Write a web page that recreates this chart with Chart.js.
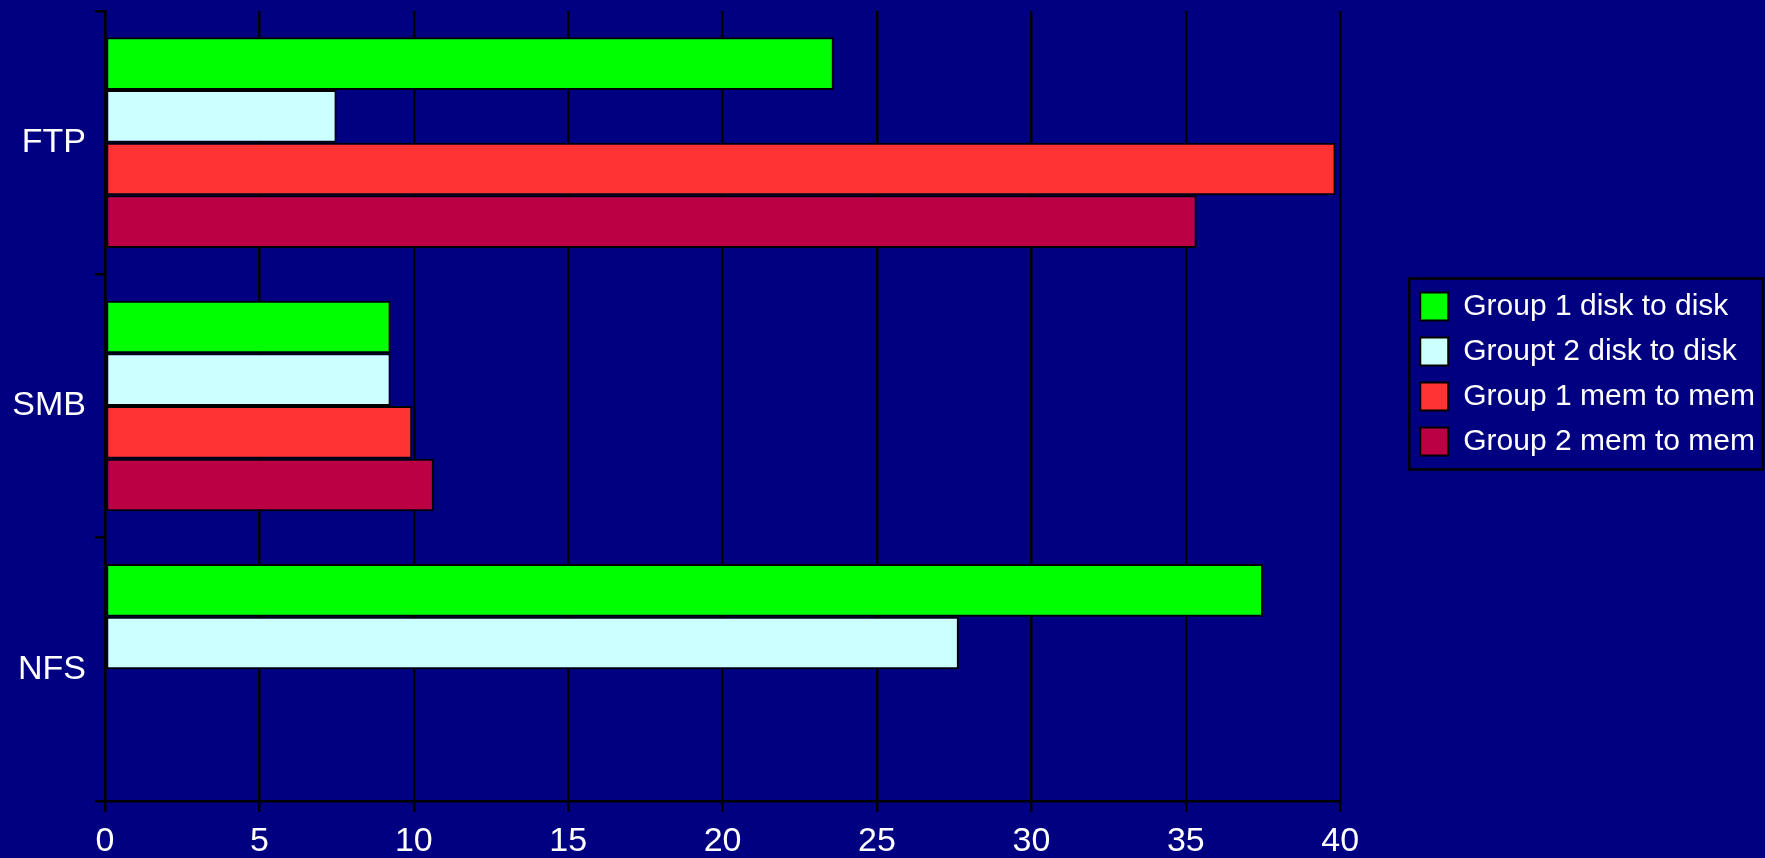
<!DOCTYPE html>
<html>
<head>
<meta charset="utf-8">
<script src="https://cdn.jsdelivr.net/npm/chart.js@4.4.0/dist/chart.umd.min.js"></script>
<style>
  html, body { margin: 0; padding: 0; background: #000080; overflow: hidden; }
  #wrap { width: 1765px; height: 858px; }
</style>
</head>
<body>
<div id="wrap"><canvas id="myCanvas"></canvas></div>
<script>
let protocols = ["FTP", "SMB", "NFS"]
let seriesNames = ["Group 1 disk to disk", "Groupt 2 disk to disk", "Group 1 mem to mem", "Group 2 mem to mem"]
let group1Disk = [23.6, 9.25, 37.5]
let group2Disk = [7.5, 9.25, 27.65]
let group1Mem = [39.85, 9.95, null]
let group2Mem = [35.35, 10.65, null]
let colors = ["#00ff00", "#ccffff", "#ff3333", "#bb0044"]
let xTicks = [0, 5, 10, 15, 20, 25, 30, 35, 40]

let values = [group1Disk, group2Disk, group1Mem, group2Mem]
let fontFamily = "'Liberation Sans', Arial, sans-serif"

// navy page behind the whole chart
const background = {
    id: "background",
    beforeDraw(chart) {
        const ctx = chart.ctx
        ctx.save()
        ctx.fillStyle = "#000080"
        ctx.fillRect(0, 0, chart.width, chart.height)
        ctx.restore()
    }
}

// legend sits a bit above the middle of the canvas
const legendPlace = {
    id: "legendPlace",
    afterLayout(chart) {
        const lg = chart.legend
        lg.top = 11
        lg.bottom = 737
        lg.height = 726
    }
}

// black frame round the legend items
const legendFrame = {
    id: "legendFrame",
    afterDraw(chart) {
        const boxes = chart.legend.legendHitBoxes
        if (!boxes || !boxes.length) return
        let left = Math.min(...boxes.map(b => b.left))
        let top = Math.min(...boxes.map(b => b.top))
        let right = Math.max(...boxes.map(b => b.left + b.width))
        let bottom = Math.max(...boxes.map(b => b.top + b.height))
        const ctx = chart.ctx
        ctx.save()
        ctx.strokeStyle = "#000000"
        ctx.lineWidth = 2.5
        ctx.strokeRect(left - 11, top - 13, right - left + 19, bottom - top + 26)
        ctx.restore()
    }
}

new Chart("myCanvas", {
    type: "bar",
    data: {
        labels: protocols,
        datasets: seriesNames.map((name, i) => ({
            label: name,
            data: values[i],
            backgroundColor: colors[i],
            borderColor: "#000000",
            borderWidth: 2,
            borderSkipped: false,
            barPercentage: 1.0,
            categoryPercentage: 0.8
        }))
    },
    options: {
        indexAxis: "y",
        responsive: true,
        maintainAspectRatio: false,
        animation: false,
        layout: { padding: { top: 11, left: 13, right: 0, bottom: 0 } },
        plugins: {
            legend: {
                position: "right",
                maxWidth: 420,
                labels: {
                    color: "#ffffff",
                    boxWidth: 28,
                    boxHeight: 28,
                    padding: 15,
                    font: { family: fontFamily, size: 30 }
                }
            },
            tooltip: { enabled: false }
        },
        scales: {
            x: {
                min: xTicks[0],
                max: xTicks[xTicks.length - 1],
                afterBuildTicks: scale => { scale.ticks = xTicks.map(v => ({ value: v })) },
                grid: { color: "#000000", lineWidth: 2.5, tickLength: 11 },
                border: { color: "#000000", width: 2.5 },
                ticks: {
                    color: "#ffffff",
                    padding: 13,
                    font: { family: fontFamily, size: 34, lineHeight: 1.0 }
                },
                afterFit: scale => { scale.height = 57 }
            },
            y: {
                grid: { color: "#000000", lineWidth: 2.5, drawOnChartArea: false, tickLength: 10 },
                border: { color: "#000000", width: 2.5 },
                ticks: {
                    color: "#ffffff",
                    padding: 9,
                    font: { family: fontFamily, size: 34 }
                },
                afterFit: scale => {
                    scale.width = 92
                    scale.paddingTop = 0
                    scale.paddingBottom = 0
                }
            },
            gap: {
                type: "linear",
                axis: "y",
                position: "right",
                grid: { display: false },
                border: { display: false },
                ticks: { display: false },
                afterFit: scale => { scale.width = 65 }
            }
        }
    },
    plugins: [background, legendPlace, legendFrame]
})
</script>
</body>
</html>
